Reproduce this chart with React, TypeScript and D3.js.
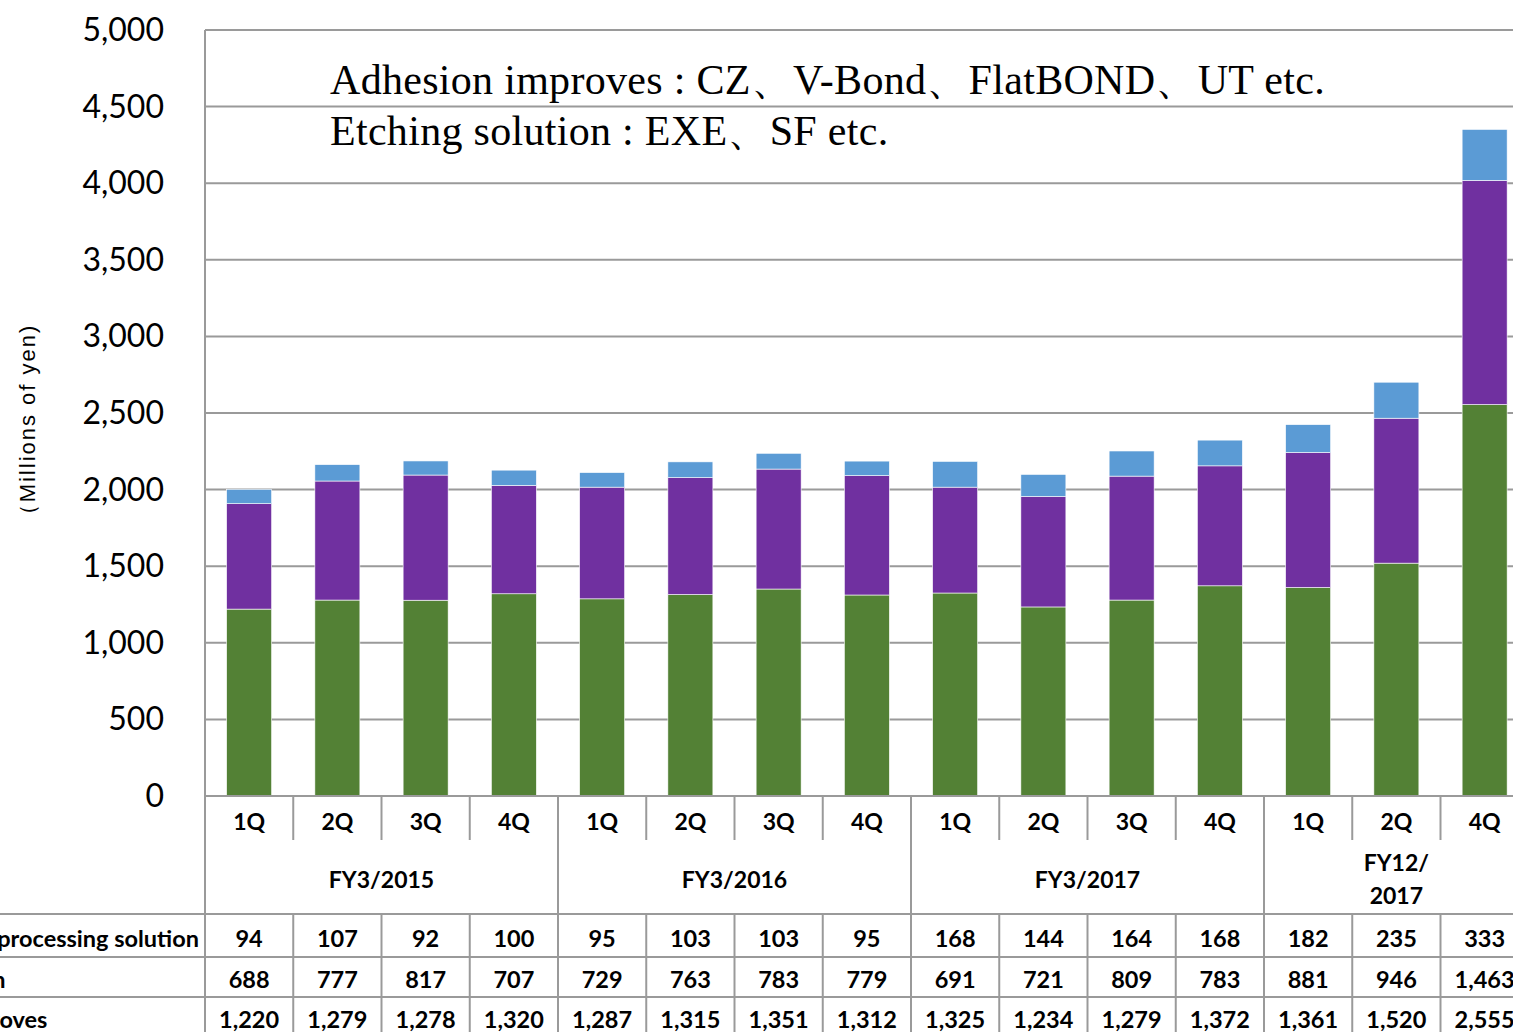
import React from 'react';
import * as d3 from 'd3';

// quarterly sales by product line (millions of yen)
const quarters = ['1Q', '2Q', '3Q', '4Q', '1Q', '2Q', '3Q', '4Q', '1Q', '2Q', '3Q', '4Q', '1Q', '2Q', '4Q'];
const fiscalYears = [
  { label: ['FY3/2015'], count: 4 },
  { label: ['FY3/2016'], count: 4 },
  { label: ['FY3/2017'], count: 4 },
  { label: ['FY12/', '2017'], count: 3 },
];
const adhesion = [1220, 1279, 1278, 1320, 1287, 1315, 1351, 1312, 1325, 1234, 1279, 1372, 1361, 1520, 2555];
const etching = [688, 777, 817, 707, 729, 763, 783, 779, 691, 721, 809, 783, 881, 946, 1463];
const other = [94, 107, 92, 100, 95, 103, 103, 95, 168, 144, 164, 168, 182, 235, 333];
const yTicks = [0, 500, 1000, 1500, 2000, 2500, 3000, 3500, 4000, 4500, 5000];

const seriesKeys = ['adhesion', 'etching', 'other'];
const colors: Record<string, string> = { adhesion: '#538135', etching: '#7030A0', other: '#5B9BD5' };

// table rows, top to bottom
const tableRows = [
  { name: 'Other processing solution', values: other },
  { name: 'Etching solution', values: etching },
  { name: 'Adhesion improves', values: adhesion },
];

const W = 1513;
const H = 1032;
const left = 205;
const top = 30;
const bottom = 796;
const gridColor = '#9a9a9a';
const sans = 'Lato, "Open Sans", sans-serif';
const serif = '"Liberation Serif", "Times New Roman", serif';

export default function App() {
  const idx = quarters.map((_, i) => i);
  const x = d3.scaleBand<number>().domain(idx).range([left, left + 88.25 * 15]).paddingInner(0.49).paddingOuter(0.245);
  const step = x.step();
  const y = d3.scaleLinear().domain([0, 5000]).range([bottom, top]);

  const rows = idx.map((i) => ({ i, adhesion: adhesion[i], etching: etching[i], other: other[i] }));
  const stacked = d3.stack<any>().keys(seriesKeys)(rows);

  const fmt = d3.format(',');
  const cellLeft = (i: number) => left + i * step;

  // group boundaries
  const groupStarts: number[] = [];
  let acc = 0;
  fiscalYears.forEach((g) => { groupStarts.push(acc); acc += g.count; });

  const rowLines = [914, 957, 997];
  const rowBaselines = [947, 988, 1028];
  const labelX = [199, -163, -152];

  return (
    <div style={{ position: 'absolute', left: 0, top: 0 }}>
      <svg width={W} height={H} style={{ display: 'block', background: '#fff' }}>
        {/* gridlines */}
        {yTicks.map((t) => (
          <line key={'g' + t} x1={left} x2={W} y1={y(t)} y2={y(t)} stroke={gridColor} strokeWidth={2} />
        ))}
        {/* y tick labels */}
        {yTicks.map((t) => (
          <text key={'t' + t} x={164} y={y(t) + 11} textAnchor="end" fontFamily={sans} fontSize={32} fill="#000">
            {fmt(t)}
          </text>
        ))}
        <text transform="translate(35,425) rotate(-90)" textAnchor="middle" fontFamily='"Liberation Sans", Arial, sans-serif' fontSize={22} letterSpacing={2} fill="#000">
          （Millions of yen)
        </text>

        {/* stacked bars */}
        {stacked.map((s) => (
          <g key={s.key} fill={colors[s.key]}>
            {s.map((d, i) => (
              <rect key={i} x={x(i)} width={x.bandwidth()} y={y(d[1])} height={y(d[0]) - y(d[1])} stroke="#ffffff" strokeWidth={0.6} />
            ))}
          </g>
        ))}

        {/* axis frame */}
        <line x1={left} x2={left} y1={top} y2={H} stroke={gridColor} strokeWidth={2} />
        <line x1={left} x2={W} y1={bottom} y2={bottom} stroke={gridColor} strokeWidth={2} />

        {/* annotation */}
        <text x={330} y={94} fontFamily={serif} fontSize={42} letterSpacing={0.3} fill="#000">
          Adhesion improves : CZ、V-Bond、FlatBOND、UT etc.
        </text>
        <text x={330} y={145} fontFamily={serif} fontSize={42} letterSpacing={0.3} fill="#000">
          Etching solution : EXE、SF etc.
        </text>

        {/* quarter row */}
        {idx.map((i) => (
          <g key={'q' + i}>
            {i > 0 && (
              <line x1={cellLeft(i)} x2={cellLeft(i)} y1={bottom} y2={groupStarts.includes(i) ? 914 : 840} stroke={gridColor} strokeWidth={2} />
            )}
            <text x={x(i)! + x.bandwidth() / 2} y={830} textAnchor="middle" fontFamily={sans} fontWeight={700} fontSize={23} fill="#000">
              {quarters[i]}
            </text>
          </g>
        ))}

        {/* fiscal year row */}
        {fiscalYears.map((g, k) => {
          const cx = cellLeft(groupStarts[k]) + (g.count * step) / 2;
          const lines = g.label;
          return (
            <text key={'fy' + k} x={cx} textAnchor="middle" fontFamily={sans} fontWeight={700} fontSize={23} fill="#000">
              {lines.map((l, j) => (
                <tspan key={j} x={cx} y={lines.length === 1 ? 888 : 871 + j * 33}>{l}</tspan>
              ))}
            </text>
          );
        })}

        {/* data table */}
        {rowLines.map((ly) => (
          <line key={'r' + ly} x1={0} x2={W} y1={ly} y2={ly} stroke={gridColor} strokeWidth={2} />
        ))}
        {idx.slice(1).map((i) => (
          <line key={'v' + i} x1={cellLeft(i)} x2={cellLeft(i)} y1={914} y2={H} stroke={gridColor} strokeWidth={2} />
        ))}
        {tableRows.map((r, k) => (
          <g key={'row' + k}>
            <text x={labelX[k]} y={rowBaselines[k]} textAnchor={k === 0 ? 'end' : 'start'} fontFamily={sans} fontWeight={700} fontSize={23.5} fill="#000">
              {r.name}
            </text>
            {r.values.map((v, i) => (
              <text key={i} x={x(i)! + x.bandwidth() / 2} y={rowBaselines[k]} textAnchor="middle" fontFamily={sans} fontWeight={700} fontSize={23.5} fill="#000">
                {fmt(v)}
              </text>
            ))}
          </g>
        ))}
      </svg>
    </div>
  );
}
